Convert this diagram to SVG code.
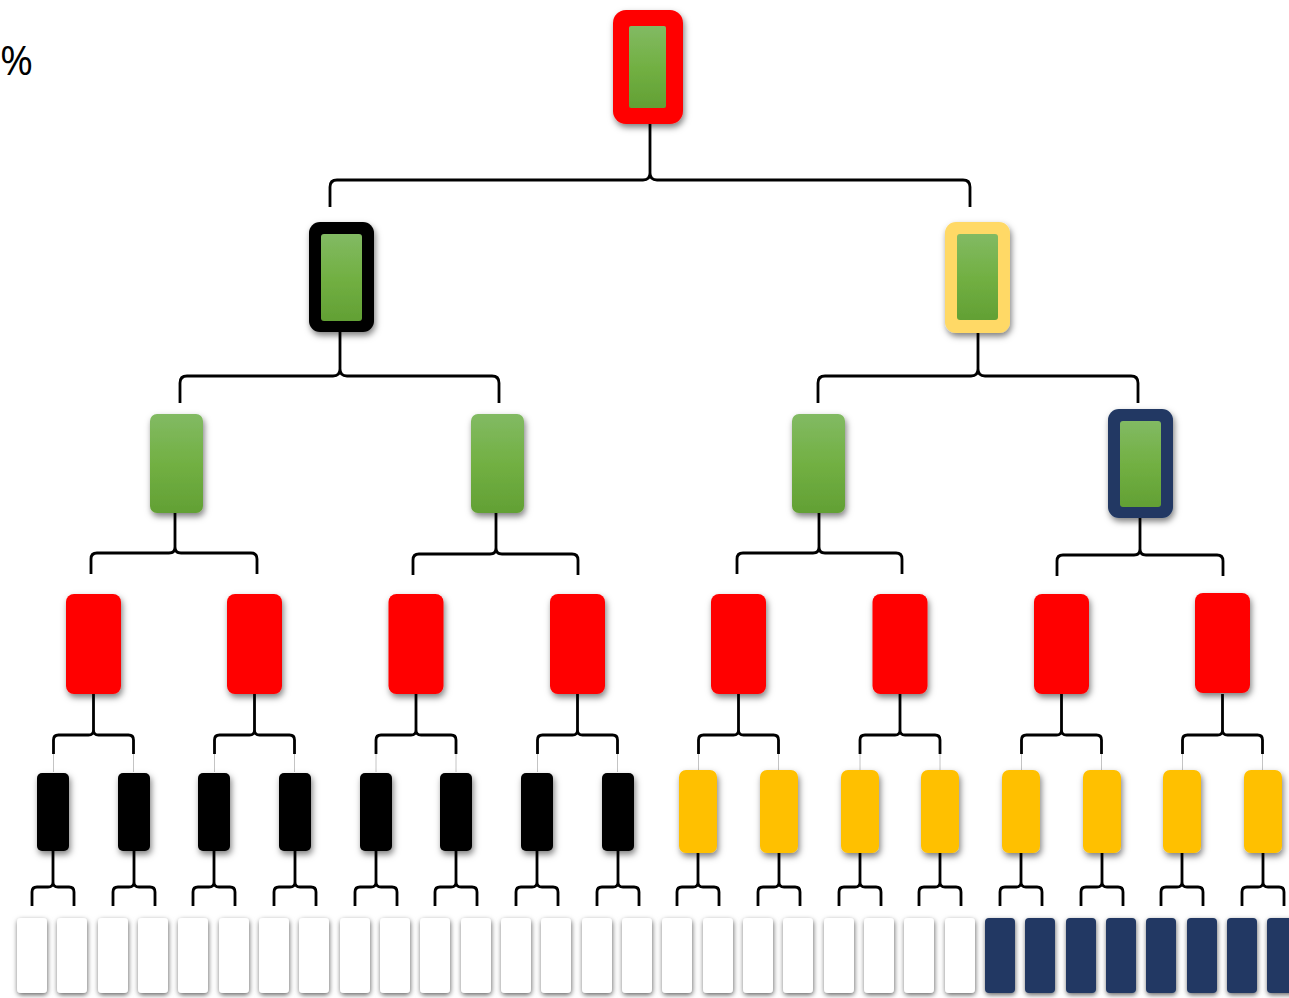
<svg xmlns="http://www.w3.org/2000/svg" xmlns:xlink="http://www.w3.org/1999/xlink" width="1289" height="998" viewBox="0 0 1289 998">
<defs>
<linearGradient id="g" x1="0" y1="0" x2="0" y2="1">
<stop offset="0" stop-color="#82BA63"/>
<stop offset="0.5" stop-color="#72B043"/>
<stop offset="1" stop-color="#62A034"/>
</linearGradient>
<filter id="sh" x="-40%" y="-30%" width="180%" height="170%">
<feDropShadow dx="1.5" dy="3.5" stdDeviation="3" flood-color="#000" flood-opacity="0.5"/>
</filter>
<filter id="shw" x="-40%" y="-30%" width="180%" height="170%">
<feDropShadow dx="0.5" dy="2" stdDeviation="2.5" flood-color="#000" flood-opacity="0.6"/>
</filter>
<path id="b4" d="M-40 754 V740 Q-40 735 -35 735 H-5 Q0 735 0 730 V694 M40 754 V740 Q40 735 35 735 H5 Q0 735 0 730"/>
<path id="t4" d="M-40 754 V772 M40 754 V772"/>
<path id="b5" d="M-21 906 V892 Q-21 887 -16 887 H-5 Q0 887 0 882 V850 M21 906 V892 Q21 887 16 887 H5 Q0 887 0 882"/>
</defs>
<style>
.node{filter:url(#sh)}
.leaf{filter:url(#shw)}
.red{fill:#FF0000}
.blk{fill:#000000}
.lyel{fill:#FFD966}
.gold{fill:#FFC000}
.navy{fill:#203864}
.wht{fill:#FFFFFF}
.grn{fill:url(#g)}
.br{fill:none;stroke:#000;stroke-width:2.8}
.thin{fill:none;stroke:#c4c4c4;stroke-width:1}
.lbl{font-family:"Open Sans","Liberation Sans",sans-serif;font-size:40px;fill:#000}
</style>
<rect width="1289" height="998" fill="#fff"/>
<text class="lbl" x="0" y="75">%</text>

<g id="connectors">
<path class="br" d="M330 207 V187 Q330 180 337 180 H643 Q650 180 650 173 V124 M970 207 V187 Q970 180 963 180 H657 Q650 180 650 173"/>
<path class="br" d="M180 403 V383 Q180 376 187 376 H333 Q340 376 340 369 V332 M499 403 V383 Q499 376 492 376 H347 Q340 376 340 369"/>
<path class="br" d="M818 403 V383 Q818 376 825 376 H971 Q978 376 978 369 V333 M1138 403 V383 Q1138 376 1131 376 H985 Q978 376 978 369"/>
<path class="br" d="M91 574 V559 Q91 553 97 553 H169 Q175 553 175 547 V513 M257 574 V559 Q257 553 251 553 H181 Q175 553 175 547"/>
<path class="br" d="M413 575 V560 Q413 554 419 554 H490 Q496 554 496 548 V513 M578 575 V560 Q578 554 572 554 H502 Q496 554 496 548"/>
<path class="br" d="M737 574 V559 Q737 553 743 553 H813 Q819 553 819 547 V513 M902 574 V559 Q902 553 896 553 H825 Q819 553 819 547"/>
<path class="br" d="M1057 576 V561 Q1057 555 1063 555 H1134 Q1140 555 1140 549 V518 M1223 576 V561 Q1223 555 1217 555 H1146 Q1140 555 1140 549"/>
<use class="br" href="#b4" xlink:href="#b4" transform="translate(93.5,0)"/>
<use class="br" href="#b4" xlink:href="#b4" transform="translate(254.5,0)"/>
<use class="br" href="#b4" xlink:href="#b4" transform="translate(416,0)"/>
<use class="br" href="#b4" xlink:href="#b4" transform="translate(577.5,0)"/>
<use class="br" href="#b4" xlink:href="#b4" transform="translate(738.5,0)"/>
<use class="br" href="#b4" xlink:href="#b4" transform="translate(900,0)"/>
<use class="br" href="#b4" xlink:href="#b4" transform="translate(1061.5,0)"/>
<use class="br" href="#b4" xlink:href="#b4" transform="translate(1222.5,0)"/>
<use class="thin" href="#t4" xlink:href="#t4" transform="translate(93.5,0)"/>
<use class="thin" href="#t4" xlink:href="#t4" transform="translate(254.5,0)"/>
<use class="thin" href="#t4" xlink:href="#t4" transform="translate(416,0)"/>
<use class="thin" href="#t4" xlink:href="#t4" transform="translate(577.5,0)"/>
<use class="thin" href="#t4" xlink:href="#t4" transform="translate(738.5,0)"/>
<use class="thin" href="#t4" xlink:href="#t4" transform="translate(900,0)"/>
<use class="thin" href="#t4" xlink:href="#t4" transform="translate(1061.5,0)"/>
<use class="thin" href="#t4" xlink:href="#t4" transform="translate(1222.5,0)"/>
<use class="br" href="#b5" xlink:href="#b5" transform="translate(53,0)"/>
<use class="br" href="#b5" xlink:href="#b5" transform="translate(134,0)"/>
<use class="br" href="#b5" xlink:href="#b5" transform="translate(214,0)"/>
<use class="br" href="#b5" xlink:href="#b5" transform="translate(295,0)"/>
<use class="br" href="#b5" xlink:href="#b5" transform="translate(376,0)"/>
<use class="br" href="#b5" xlink:href="#b5" transform="translate(456,0)"/>
<use class="br" href="#b5" xlink:href="#b5" transform="translate(537,0)"/>
<use class="br" href="#b5" xlink:href="#b5" transform="translate(618,0)"/>
<use class="br" href="#b5" xlink:href="#b5" transform="translate(698,0)"/>
<use class="br" href="#b5" xlink:href="#b5" transform="translate(779,0)"/>
<use class="br" href="#b5" xlink:href="#b5" transform="translate(860,0)"/>
<use class="br" href="#b5" xlink:href="#b5" transform="translate(940,0)"/>
<use class="br" href="#b5" xlink:href="#b5" transform="translate(1021,0)"/>
<use class="br" href="#b5" xlink:href="#b5" transform="translate(1102,0)"/>
<use class="br" href="#b5" xlink:href="#b5" transform="translate(1182,0)"/>
<use class="br" href="#b5" xlink:href="#b5" transform="translate(1263,0)"/>
</g>

<g id="n-root" class="node"><rect class="red" x="613" y="10" width="70" height="114" rx="13"/><rect class="grn" x="629" y="26" width="37" height="82" rx="2"/></g>

<g id="n-l2-0" class="node"><rect class="blk" x="309" y="222" width="65" height="110" rx="11"/><rect class="grn" x="321" y="234" width="41" height="87" rx="3"/></g>
<g id="n-l2-1" class="node"><rect class="lyel" x="945" y="222" width="65" height="111" rx="11"/><rect class="grn" x="957" y="234" width="41" height="86" rx="3"/></g>

<g id="n-l3-0" class="node"><rect class="grn" x="150" y="414" width="53" height="99" rx="7"/></g>
<g id="n-l3-1" class="node"><rect class="grn" x="471" y="414" width="53" height="99" rx="7"/></g>
<g id="n-l3-2" class="node"><rect class="grn" x="792" y="414" width="53" height="99" rx="7"/></g>
<g id="n-l3-3" class="node"><rect class="navy" x="1108" y="409" width="65" height="109" rx="11"/><rect class="grn" x="1120" y="421" width="41" height="86" rx="3"/></g>

<g id="n-l4-0" class="node"><rect class="red" x="66" y="594" width="55" height="100" rx="8"/></g>
<g id="n-l4-1" class="node"><rect class="red" x="227" y="594" width="55" height="100" rx="8"/></g>
<g id="n-l4-2" class="node"><rect class="red" x="388.5" y="594" width="55" height="100" rx="8"/></g>
<g id="n-l4-3" class="node"><rect class="red" x="550" y="594" width="55" height="100" rx="8"/></g>
<g id="n-l4-4" class="node"><rect class="red" x="711" y="594" width="55" height="100" rx="8"/></g>
<g id="n-l4-5" class="node"><rect class="red" x="872.5" y="594" width="55" height="100" rx="8"/></g>
<g id="n-l4-6" class="node"><rect class="red" x="1034" y="594" width="55" height="100" rx="8"/></g>
<g id="n-l4-7" class="node"><rect class="red" x="1195" y="593" width="55" height="100" rx="8"/></g>

<g id="n-l5-0" class="node"><rect class="blk" x="37" y="773" width="32" height="78" rx="5"/></g>
<g id="n-l5-1" class="node"><rect class="blk" x="118" y="773" width="32" height="78" rx="5"/></g>
<g id="n-l5-2" class="node"><rect class="blk" x="198" y="773" width="32" height="78" rx="5"/></g>
<g id="n-l5-3" class="node"><rect class="blk" x="279" y="773" width="32" height="78" rx="5"/></g>
<g id="n-l5-4" class="node"><rect class="blk" x="360" y="773" width="32" height="78" rx="5"/></g>
<g id="n-l5-5" class="node"><rect class="blk" x="440" y="773" width="32" height="78" rx="5"/></g>
<g id="n-l5-6" class="node"><rect class="blk" x="521" y="773" width="32" height="78" rx="5"/></g>
<g id="n-l5-7" class="node"><rect class="blk" x="602" y="773" width="32" height="78" rx="5"/></g>
<g id="n-l5-8" class="node"><rect class="gold" x="679" y="770" width="38" height="83" rx="7"/></g>
<g id="n-l5-9" class="node"><rect class="gold" x="760" y="770" width="38" height="83" rx="7"/></g>
<g id="n-l5-10" class="node"><rect class="gold" x="841" y="770" width="38" height="83" rx="7"/></g>
<g id="n-l5-11" class="node"><rect class="gold" x="921" y="770" width="38" height="83" rx="7"/></g>
<g id="n-l5-12" class="node"><rect class="gold" x="1002" y="770" width="38" height="83" rx="7"/></g>
<g id="n-l5-13" class="node"><rect class="gold" x="1083" y="770" width="38" height="83" rx="7"/></g>
<g id="n-l5-14" class="node"><rect class="gold" x="1163" y="770" width="38" height="83" rx="7"/></g>
<g id="n-l5-15" class="node"><rect class="gold" x="1244" y="770" width="38" height="83" rx="7"/></g>

<g id="n-l6-0" class="leaf"><rect class="wht" x="17" y="918" width="30" height="75" rx="4"/></g>
<g id="n-l6-1" class="leaf"><rect class="wht" x="57" y="918" width="30" height="75" rx="4"/></g>
<g id="n-l6-2" class="leaf"><rect class="wht" x="98" y="918" width="30" height="75" rx="4"/></g>
<g id="n-l6-3" class="leaf"><rect class="wht" x="138" y="918" width="30" height="75" rx="4"/></g>
<g id="n-l6-4" class="leaf"><rect class="wht" x="178" y="918" width="30" height="75" rx="4"/></g>
<g id="n-l6-5" class="leaf"><rect class="wht" x="219" y="918" width="30" height="75" rx="4"/></g>
<g id="n-l6-6" class="leaf"><rect class="wht" x="259" y="918" width="30" height="75" rx="4"/></g>
<g id="n-l6-7" class="leaf"><rect class="wht" x="299" y="918" width="30" height="75" rx="4"/></g>
<g id="n-l6-8" class="leaf"><rect class="wht" x="340" y="918" width="30" height="75" rx="4"/></g>
<g id="n-l6-9" class="leaf"><rect class="wht" x="380" y="918" width="30" height="75" rx="4"/></g>
<g id="n-l6-10" class="leaf"><rect class="wht" x="420" y="918" width="30" height="75" rx="4"/></g>
<g id="n-l6-11" class="leaf"><rect class="wht" x="461" y="918" width="30" height="75" rx="4"/></g>
<g id="n-l6-12" class="leaf"><rect class="wht" x="501" y="918" width="30" height="75" rx="4"/></g>
<g id="n-l6-13" class="leaf"><rect class="wht" x="541" y="918" width="30" height="75" rx="4"/></g>
<g id="n-l6-14" class="leaf"><rect class="wht" x="582" y="918" width="30" height="75" rx="4"/></g>
<g id="n-l6-15" class="leaf"><rect class="wht" x="622" y="918" width="30" height="75" rx="4"/></g>
<g id="n-l6-16" class="leaf"><rect class="wht" x="662" y="918" width="30" height="75" rx="4"/></g>
<g id="n-l6-17" class="leaf"><rect class="wht" x="703" y="918" width="30" height="75" rx="4"/></g>
<g id="n-l6-18" class="leaf"><rect class="wht" x="743" y="918" width="30" height="75" rx="4"/></g>
<g id="n-l6-19" class="leaf"><rect class="wht" x="783" y="918" width="30" height="75" rx="4"/></g>
<g id="n-l6-20" class="leaf"><rect class="wht" x="824" y="918" width="30" height="75" rx="4"/></g>
<g id="n-l6-21" class="leaf"><rect class="wht" x="864" y="918" width="30" height="75" rx="4"/></g>
<g id="n-l6-22" class="leaf"><rect class="wht" x="904" y="918" width="30" height="75" rx="4"/></g>
<g id="n-l6-23" class="leaf"><rect class="wht" x="945" y="918" width="30" height="75" rx="4"/></g>
<g id="n-l6-24" class="leaf"><rect class="navy" x="985" y="918" width="30" height="75" rx="4"/></g>
<g id="n-l6-25" class="leaf"><rect class="navy" x="1025" y="918" width="30" height="75" rx="4"/></g>
<g id="n-l6-26" class="leaf"><rect class="navy" x="1066" y="918" width="30" height="75" rx="4"/></g>
<g id="n-l6-27" class="leaf"><rect class="navy" x="1106" y="918" width="30" height="75" rx="4"/></g>
<g id="n-l6-28" class="leaf"><rect class="navy" x="1146" y="918" width="30" height="75" rx="4"/></g>
<g id="n-l6-29" class="leaf"><rect class="navy" x="1187" y="918" width="30" height="75" rx="4"/></g>
<g id="n-l6-30" class="leaf"><rect class="navy" x="1227" y="918" width="30" height="75" rx="4"/></g>
<g id="n-l6-31" class="leaf"><rect class="navy" x="1267" y="918" width="30" height="75" rx="4"/></g>
</svg>
